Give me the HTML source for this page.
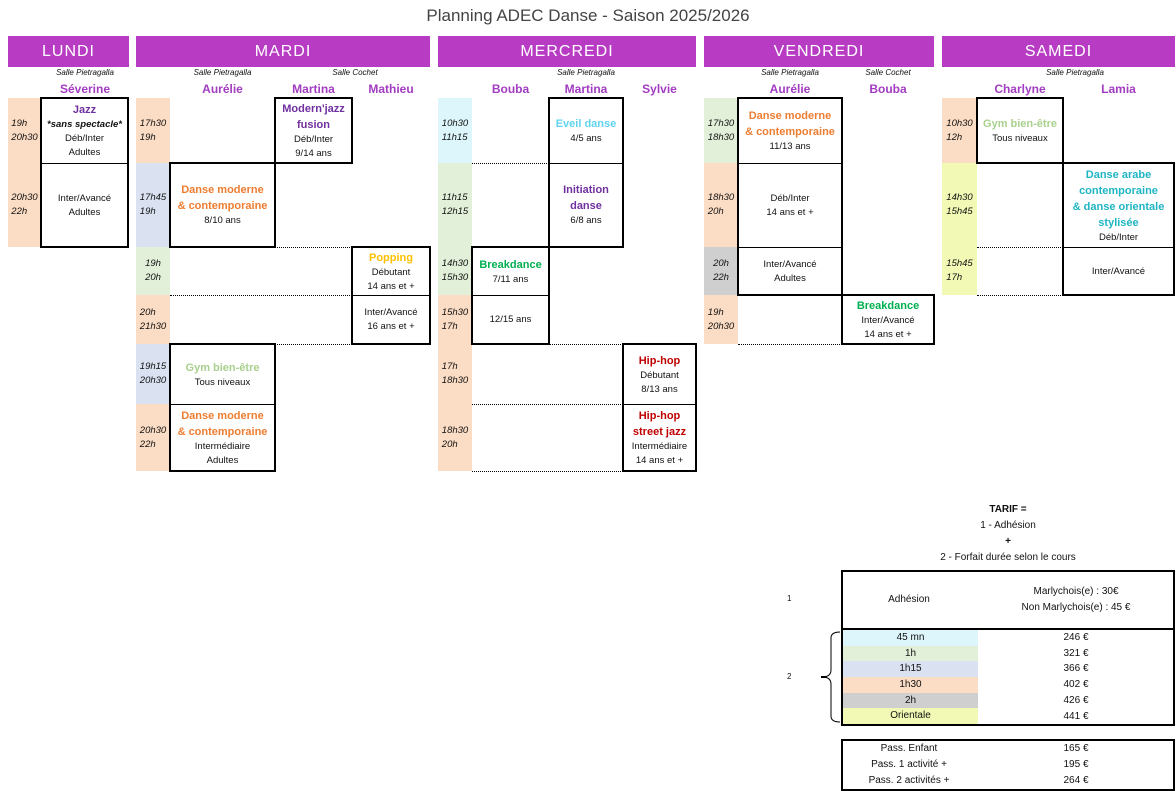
<!DOCTYPE html>
<html><head><meta charset="utf-8"><style>
*{margin:0;padding:0;box-sizing:border-box}
body{width:1176px;height:792px;background:#fff;position:relative;overflow:hidden;font-family:"Liberation Sans",sans-serif;color:#111}
.a{position:absolute}
.h{position:absolute;top:36px;height:31px;background:#b83cc3;color:#fff;font-size:16px;letter-spacing:1px;display:flex;align-items:center;justify-content:center}
.s{position:absolute;top:68px;font-size:8px;font-style:italic;color:#111;text-align:center}
.n{position:absolute;top:82px;font-size:12px;font-weight:bold;color:#a23cc0;text-align:center}
.tc{position:absolute;font-size:9.5px;font-style:italic;display:flex;flex-direction:column;align-items:center;justify-content:center;line-height:14px}
.c{position:absolute;font-size:9.5px;display:flex;flex-direction:column;align-items:center;justify-content:center;text-align:center;line-height:14px}
.c b{font-size:11px;line-height:16px}
.bx{position:absolute;border:2px solid #000}
.hl{position:absolute;height:0;border-top:1px solid #000}
.dl{position:absolute;height:0;border-top:1px dotted #000}
.or{background:#fbdcc4}.bl{background:#dae2f1}.gr{background:#e2efd9}.cy{background:#ddf6fb}.gy{background:#d0cfcf}.ye{background:#f1f9b4}
.t{position:absolute;font-size:10px;text-align:center;line-height:16px}
</style></head><body>
<div class="a" style="left:0;width:1176px;top:6px;text-align:center;font-size:17px;color:#444">Planning ADEC Danse - Saison 2025/2026</div>

<div class="h" style="left:8px;width:121px">LUNDI</div>
<div class="h" style="left:136px;width:294px">MARDI</div>
<div class="h" style="left:438px;width:258px">MERCREDI</div>
<div class="h" style="left:704px;width:230px">VENDREDI</div>
<div class="h" style="left:942px;width:233px">SAMEDI</div>

<div class="s" style="left:41px;width:88px">Salle Pietragalla</div>
<div class="n" style="left:41px;width:88px">Séverine</div>
<div class="s" style="left:170px;width:105px">Salle Pietragalla</div>
<div class="s" style="left:300px;width:110px">Salle Cochet</div>
<div class="n" style="left:170px;width:105px">Aurélie</div>
<div class="n" style="left:275px;width:77px">Martina</div>
<div class="n" style="left:352px;width:78px">Mathieu</div>
<div class="s" style="left:549px;width:74px">Salle Pietragalla</div>
<div class="n" style="left:472px;width:77px">Bouba</div>
<div class="n" style="left:549px;width:74px">Martina</div>
<div class="n" style="left:623px;width:73px">Sylvie</div>
<div class="s" style="left:738px;width:104px">Salle Pietragalla</div>
<div class="s" style="left:842px;width:92px">Salle Cochet</div>
<div class="n" style="left:738px;width:104px">Aurélie</div>
<div class="n" style="left:842px;width:92px">Bouba</div>
<div class="s" style="left:1010px;width:130px">Salle Pietragalla</div>
<div class="n" style="left:977px;width:86px">Charlyne</div>
<div class="n" style="left:1063px;width:111px">Lamia</div>

<!-- LUNDI -->
<div class="tc or" style="left:8px;top:98px;width:33px;height:65px">19h<br>20h30</div>
<div class="tc or" style="left:8px;top:163px;width:33px;height:84px">20h30<br>22h</div>
<div class="bx" style="left:40px;top:97px;width:89px;height:151px"></div>
<div class="hl" style="left:41px;top:163px;width:87px"></div>
<div class="c" style="left:41px;top:99px;width:87px;height:64px"><b style="color:#7030a0">Jazz</b><i style="font-weight:bold">*sans spectacle*</i>Déb/Inter<br>Adultes</div>
<div class="c" style="left:41px;top:164px;width:87px;height:83px">Inter/Avancé<br>Adultes</div>

<!-- MARDI -->
<div class="tc or" style="left:136px;top:98px;width:34px;height:65px">17h30<br>19h</div>
<div class="tc bl" style="left:136px;top:163px;width:34px;height:84px">17h45<br>19h</div>
<div class="tc gr" style="left:136px;top:247px;width:34px;height:48px">19h<br>20h</div>
<div class="tc or" style="left:136px;top:295px;width:34px;height:49px">20h<br>21h30</div>
<div class="tc bl" style="left:136px;top:344px;width:34px;height:60px">19h15<br>20h30</div>
<div class="tc or" style="left:136px;top:404px;width:34px;height:67px">20h30<br>22h</div>
<div class="bx" style="left:274px;top:97px;width:79px;height:67px"></div>
<div class="c" style="left:276px;top:99px;width:75px;height:63px"><b style="color:#7030a0">Modern'jazz<br>fusion</b>Déb/Inter<br>9/14 ans</div>
<div class="bx" style="left:169px;top:162px;width:107px;height:86px"></div>
<div class="c" style="left:171px;top:164px;width:103px;height:82px"><b style="color:#ed7d31">Danse moderne<br>&amp; contemporaine</b>8/10 ans</div>
<div class="dl" style="left:275px;top:247px;width:77px"></div>
<div class="bx" style="left:351px;top:246px;width:80px;height:99px"></div>
<div class="hl" style="left:352px;top:295px;width:78px"></div>
<div class="c" style="left:353px;top:248px;width:76px;height:47px"><b style="color:#ffc000">Popping</b>Débutant<br>14 ans et +</div>
<div class="c" style="left:353px;top:296px;width:76px;height:47px">Inter/Avancé<br>16 ans et +</div>
<div class="dl" style="left:170px;top:295px;width:182px"></div>
<div class="dl" style="left:170px;top:344px;width:182px"></div>
<div class="bx" style="left:169px;top:343px;width:107px;height:129px"></div>
<div class="hl" style="left:170px;top:404px;width:105px"></div>
<div class="c" style="left:171px;top:345px;width:103px;height:59px"><b style="color:#a9d08e">Gym bien-être</b>Tous niveaux</div>
<div class="c" style="left:171px;top:405px;width:103px;height:65px"><b style="color:#ed7d31">Danse moderne<br>&amp; contemporaine</b>Intermédiaire<br>Adultes</div>

<!-- MERCREDI -->
<div class="tc cy" style="left:438px;top:98px;width:34px;height:65px">10h30<br>11h15</div>
<div class="tc gr" style="left:438px;top:163px;width:34px;height:84px">11h15<br>12h15</div>
<div class="tc gr" style="left:438px;top:247px;width:34px;height:48px">14h30<br>15h30</div>
<div class="tc or" style="left:438px;top:295px;width:34px;height:49px">15h30<br>17h</div>
<div class="tc or" style="left:438px;top:344px;width:34px;height:60px">17h<br>18h30</div>
<div class="tc or" style="left:438px;top:404px;width:34px;height:67px">18h30<br>20h</div>
<div class="dl" style="left:472px;top:163px;width:77px"></div>
<div class="bx" style="left:548px;top:97px;width:76px;height:151px"></div>
<div class="hl" style="left:549px;top:163px;width:74px"></div>
<div class="c" style="left:550px;top:99px;width:72px;height:64px"><b style="color:#5fd3ee">Eveil danse</b>4/5 ans</div>
<div class="c" style="left:550px;top:164px;width:72px;height:82px"><b style="color:#7030a0">Initiation<br>danse</b>6/8 ans</div>
<div class="bx" style="left:471px;top:246px;width:79px;height:99px"></div>
<div class="hl" style="left:472px;top:295px;width:77px"></div>
<div class="c" style="left:473px;top:248px;width:75px;height:47px"><b style="color:#00b050">Breakdance</b>7/11 ans</div>
<div class="c" style="left:473px;top:296px;width:75px;height:47px">12/15 ans</div>
<div class="dl" style="left:472px;top:344px;width:151px"></div>
<div class="dl" style="left:472px;top:404px;width:151px"></div>
<div class="dl" style="left:472px;top:471px;width:151px"></div>
<div class="bx" style="left:622px;top:343px;width:75px;height:129px"></div>
<div class="hl" style="left:623px;top:404px;width:73px"></div>
<div class="c" style="left:624px;top:345px;width:71px;height:59px"><b style="color:#c00000">Hip-hop</b>Débutant<br>8/13 ans</div>
<div class="c" style="left:624px;top:405px;width:71px;height:65px"><b style="color:#c00000">Hip-hop<br>street jazz</b>Intermédiaire<br>14 ans et +</div>

<!-- VENDREDI -->
<div class="tc gr" style="left:704px;top:98px;width:34px;height:65px">17h30<br>18h30</div>
<div class="tc or" style="left:704px;top:163px;width:34px;height:84px">18h30<br>20h</div>
<div class="tc gy" style="left:704px;top:247px;width:34px;height:48px">20h<br>22h</div>
<div class="tc or" style="left:704px;top:295px;width:34px;height:49px">19h<br>20h30</div>
<div class="bx" style="left:737px;top:97px;width:106px;height:199px"></div>
<div class="hl" style="left:738px;top:163px;width:104px"></div>
<div class="hl" style="left:738px;top:247px;width:104px"></div>
<div class="c" style="left:739px;top:99px;width:102px;height:64px"><b style="color:#ed7d31">Danse moderne<br>&amp; contemporaine</b>11/13 ans</div>
<div class="c" style="left:739px;top:164px;width:102px;height:83px">Déb/Inter<br>14 ans et +</div>
<div class="c" style="left:739px;top:248px;width:102px;height:47px">Inter/Avancé<br>Adultes</div>
<div class="bx" style="left:841px;top:294px;width:94px;height:51px"></div>
<div class="c" style="left:843px;top:296px;width:90px;height:47px"><b style="color:#00b050">Breakdance</b>Inter/Avancé<br>14 ans et +</div>
<div class="dl" style="left:738px;top:344px;width:104px"></div>

<!-- SAMEDI -->
<div class="tc or" style="left:942px;top:98px;width:35px;height:65px">10h30<br>12h</div>
<div class="tc ye" style="left:942px;top:163px;width:35px;height:84px">14h30<br>15h45</div>
<div class="tc ye" style="left:942px;top:247px;width:35px;height:48px">15h45<br>17h</div>
<div class="bx" style="left:976px;top:97px;width:88px;height:67px"></div>
<div class="c" style="left:978px;top:99px;width:84px;height:63px"><b style="color:#a9d08e">Gym bien-être</b>Tous niveaux</div>
<div class="bx" style="left:1062px;top:162px;width:113px;height:134px"></div>
<div class="hl" style="left:1063px;top:247px;width:111px"></div>
<div class="c" style="left:1064px;top:164px;width:109px;height:83px"><b style="color:#1fb5c4">Danse arabe<br>contemporaine<br>&amp; danse orientale<br>stylisée</b>Déb/Inter</div>
<div class="c" style="left:1064px;top:248px;width:109px;height:47px">Inter/Avancé</div>
<div class="dl" style="left:977px;top:247px;width:86px"></div>
<div class="dl" style="left:977px;top:295px;width:86px"></div>

<!-- TARIF -->
<div class="t" style="left:842px;width:332px;top:502px;font-weight:bold">TARIF =</div>
<div class="t" style="left:842px;width:332px;top:518px">1 - Adhésion</div>
<div class="t" style="left:842px;width:332px;top:534px;font-weight:bold">+</div>
<div class="t" style="left:842px;width:332px;top:550px">2 - Forfait durée selon le cours</div>
<div class="a" style="left:787px;top:594px;font-size:8px">1</div>
<div class="a" style="left:787px;top:672px;font-size:8px">2</div>
<div class="bx" style="left:841px;top:570px;width:334px;height:60px"></div>
<div class="t" style="left:843px;width:132px;top:592px">Adhésion</div>
<div class="t" style="left:978px;width:196px;top:584px">Marlychois(e) : 30€<br>Non Marlychois(e) : 45 €</div>
<div class="bx" style="left:841px;top:628px;width:334px;height:98px"></div>
<div class="a" style="left:843px;top:630px;width:135px;height:94px">
<div class="cy t" style="position:static;height:15.7px">45 mn</div>
<div class="gr t" style="position:static;height:15.7px">1h</div>
<div class="bl t" style="position:static;height:15.7px">1h15</div>
<div class="or t" style="position:static;height:15.7px">1h30</div>
<div class="gy t" style="position:static;height:15.7px">2h</div>
<div class="ye t" style="position:static;height:15.7px">Orientale</div>
</div>
<div class="t" style="left:978px;width:196px;top:630px;line-height:15.7px">246 €<br>321 €<br>366 €<br>402 €<br>426 €<br>441 €</div>
<svg class="a" style="left:818px;top:630px" width="26" height="94"><path d="M22 2 Q13 2 13 8 L13 40 Q13 46 6 47 Q13 48 13 54 L13 86 Q13 92 22 92" fill="none" stroke="#000" stroke-width="1"/><line x1="3" y1="47" x2="9" y2="47" stroke="#000" stroke-width="2"/></svg>
<div class="bx" style="left:841px;top:739px;width:334px;height:52px"></div>
<div class="t" style="left:843px;width:132px;top:741px">Pass. Enfant<br>Pass. 1 activité +<br>Pass. 2 activités +</div>
<div class="t" style="left:978px;width:196px;top:741px">165 €<br>195 €<br>264 €</div>
</body></html>
